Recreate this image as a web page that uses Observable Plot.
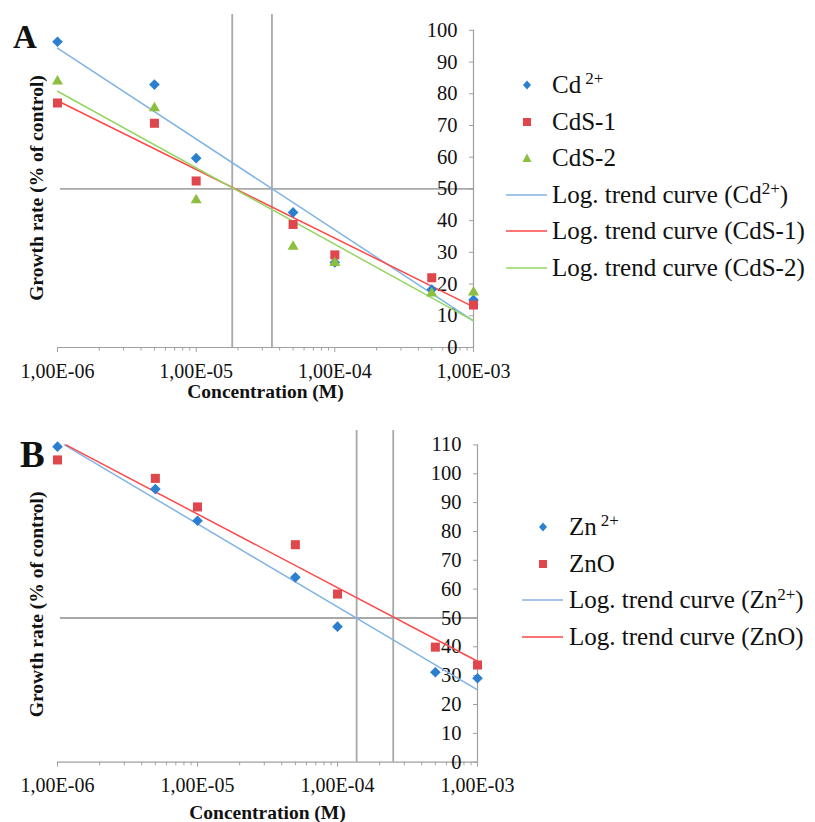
<!DOCTYPE html>
<html>
<head>
<meta charset="utf-8">
<script src="https://cdn.jsdelivr.net/npm/d3@7"></script>
<script src="https://cdn.jsdelivr.net/npm/@observablehq/plot@0.6"></script>
<style>
  html, body { margin: 0; padding: 0; background: #fff; }
  body { font-family: "Liberation Serif", "Tinos", "Nimbus Roman", "Times New Roman", "DejaVu Serif", serif; color: #111; }
  #wrap { position: relative; width: 815px; height: 822px; overflow: hidden; }
  .panel { position: absolute; left: 0; }
  .panel svg { overflow: visible; }
  .letter { position: absolute; font-weight: bold; line-height: 1; }
  .legend { position: absolute; font-size: 25px; }
  .row { display: flex; align-items: center; height: 36.6px; white-space: nowrap; }
  .key { position: relative; width: 46px; height: 20px; margin-right: 0; flex: none; }
  .key svg { position: absolute; left: 0; top: 0; }
  sup { font-size: 0.68em; vertical-align: 0; position: relative; top: -0.5em; }
</style>
</head>
<body>
<div id="wrap">
  <div id="pa" class="panel" style="top:0px"></div>
  <div id="pb" class="panel" style="top:405px"></div>
  <div class="letter" style="left:13px; top:21px; font-size:33px;">A</div>
  <div class="letter" style="left:20px; top:436px; font-size:37px;">B</div>
  <div id="legA" class="legend" style="left:506px; top:66.7px;"></div>
  <div id="legB" class="legend" style="left:522px; top:508.7px;"></div>
</div>
<script>
// ---------- data ----------
const conc = [1e-6, 5e-6, 1e-5, 5e-5, 1e-4, 5e-4, 1e-3];

// Panel A
const cd2  = [96.4, 82.9, 59.7, 42.6, 26.8, 18.3, 15.0];
const cds1 = [77.1, 70.7, 52.5, 38.8, 29.2, 22.0, 13.4];
const cds2 = [83.9, 75.5, 46.5, 31.8, 26.7, 17.1, 17.4];
const trendXA = [1e-6, 1e-3];
const trendCd2  = [94.4, 8.4];
const trendCdS1 = [77.8, 12.8];
const trendCdS2 = [80.8, 8.4];
const ic50A = [1.82e-5, 3.52e-5];

// Panel B
const zn2 = [109.4, 94.7, 83.7, 64.1, 47.0, 31.2, 29.1];
const zno = [104.8, 98.4, 88.5, 75.4, 58.3, 39.9, 33.7];
const trendZn2X = [1.12e-6, 1e-3];
const trendZn2  = [110, 25.1];
const trendZnOX = [1.15e-6, 1e-3];
const trendZnO  = [110, 35.0];
const ic50B = [1.37e-4, 2.5e-4];

// axes
const xMajor = [1e-6, 1e-5, 1e-4, 1e-3];
const xLabels = ["1,00E-06", "1,00E-05", "1,00E-04", "1,00E-03"];
const yTicksA = [0, 10, 20, 30, 40, 50, 60, 70, 80, 90, 100];
const yTicksB = [0, 10, 20, 30, 40, 50, 60, 70, 80, 90, 100, 110];
const halfLine = 50;
const hLineX = [1.05e-6, 1e-3];

const xMinor = [];
for (const dec of [1e-6, 1e-5, 1e-4]) for (let m = 2; m <= 9; m++) xMinor.push(m * dec);

// ---------- styles ----------
const C = {
  blue: "#2a7fcf", red: "#e0474c", green: "#8cbf3f",
  tBlue: "#80b3e6", tRed: "#ff4747", tGreen: "#93d661",
  ref: "#a8a8a8", axis: "#a0a0a0", text: "#111"
};
const font = "'Liberation Serif', 'Tinos', 'Nimbus Roman', 'Times New Roman', 'DejaVu Serif', serif";

function pts(ys) { return conc.map((x, i) => ({x, y: ys[i]})); }
function seg(xs, ys) { return xs.map((x, i) => ({x, y: ys[i]})); }

function commonAxes(yTicks, yTop, yRefTop, ic50, titleDy, yTitleDy) {
  return [
    Plot.ruleY([halfLine], {x1: hLineX[0], x2: hLineX[1], stroke: C.ref, strokeWidth: 1.8}),
    Plot.ruleX(ic50, {y1: 0, y2: yRefTop, stroke: C.ref, strokeWidth: 1.8}),
    Plot.ruleY([0], {x1: xMajor[0], x2: xMajor[3], stroke: C.axis, strokeWidth: 1.2}),
    Plot.ruleX([xMajor[3]], {y1: 0, y2: yTop, stroke: C.axis, strokeWidth: 1.2}),
    Plot.axisX({ticks: xMajor, tickSize: 5, tickPadding: 11, stroke: C.axis, strokeOpacity: 1,
      tickFormat: d => xLabels[xMajor.findIndex(v => Math.abs(Math.log10(v) - Math.log10(d)) < 1e-6)],
      label: null, fontSize: 20}),
    Plot.axisX({ticks: xMinor, tickSize: 3.5, stroke: C.axis, strokeOpacity: 1, tickFormat: () => "", label: null}),
    Plot.axisY({anchor: "right", ticks: yTicks, tickSize: 5, dx: -5, tickPadding: -16, textAnchor: "end",
      stroke: C.axis, strokeOpacity: 1, tickFormat: d => String(d), label: null, fontSize: 20.5}),
    Plot.text(["Concentration (M)"], {frameAnchor: "bottom", dy: titleDy, fontWeight: "bold", fontSize: 19.5, textAnchor: "middle", lineAnchor: "middle", fill: C.text}),
    Plot.text(["Growth rate (% of control)"], {frameAnchor: "left", rotate: -90, dx: -21, dy: yTitleDy, fontWeight: "bold", fontSize: 19.5, textAnchor: "middle", lineAnchor: "middle", fill: C.text})
  ];
}

// ---------- Panel A ----------
const plotA = Plot.plot({
  width: 520, height: 405,
  marginLeft: 57, marginRight: 47, marginTop: 14, marginBottom: 58,
  x: {type: "log", domain: [1e-6, 1e-3]},
  y: {domain: [0, 105]},
  style: {fontFamily: font, fontSize: "20px", color: C.text, background: "transparent", overflow: "visible"},
  marks: [
    ...commonAxes(yTicksA, 100, 105, ic50A, 44, 7),
    Plot.line(seg(trendXA, trendCd2),  {x: "x", y: "y", stroke: C.tBlue, strokeWidth: 1.5}),
    Plot.line(seg(trendXA, trendCdS1), {x: "x", y: "y", stroke: C.tRed, strokeWidth: 1.5}),
    Plot.line(seg(trendXA, trendCdS2), {x: "x", y: "y", stroke: C.tGreen, strokeWidth: 1.5}),
    Plot.dot(pts(cd2),  {x: "x", y: "y", symbol: "diamond2", r: 4.8, fill: C.blue, stroke: null}),
    Plot.dot(pts(cds1), {x: "x", y: "y", symbol: "square", r: 5.1, fill: C.red, stroke: null}),
    Plot.dot(pts(cds2), {x: "x", y: "y", symbol: "triangle", r: 4.1, fill: C.green, stroke: null})
  ]
});
document.getElementById("pa").append(plotA);

// ---------- Panel B ----------
const plotB = Plot.plot({
  width: 520, height: 417,
  marginLeft: 57, marginRight: 43, marginTop: 25, marginBottom: 60.3,
  x: {type: "log", domain: [1e-6, 1e-3]},
  y: {domain: [0, 115]},
  style: {fontFamily: font, fontSize: "20px", color: C.text, background: "transparent", overflow: "visible"},
  marks: [
    ...commonAxes(yTicksB, 110, 115, ic50B, 51, 8),
    Plot.line(seg(trendZn2X, trendZn2), {x: "x", y: "y", stroke: C.tBlue, strokeWidth: 1.5}),
    Plot.line(seg(trendZnOX, trendZnO), {x: "x", y: "y", stroke: C.tRed, strokeWidth: 1.5}),
    Plot.dot(pts(zn2), {x: "x", y: "y", symbol: "diamond2", r: 4.8, fill: C.blue, stroke: null}),
    Plot.dot(pts(zno), {x: "x", y: "y", symbol: "square", r: 5.1, fill: C.red, stroke: null})
  ]
});
document.getElementById("pb").append(plotB);

// ---------- Legends ----------
const markerSvg = {
  diamond: c => `<svg width="46" height="20"><path d="M21 5.5 L25 10 L21 14.5 L17 10 Z" fill="${c}"/></svg>`,
  square:  c => `<svg width="46" height="20"><rect x="17" y="6" width="8" height="8" fill="${c}"/></svg>`,
  triangle:c => `<svg width="46" height="20"><path d="M21 5.5 L25.5 14 L16.5 14 Z" fill="${c}"/></svg>`,
  line:    c => `<svg width="46" height="20"><line x1="0" x2="41" y1="10" y2="10" stroke="${c}" stroke-width="1.6"/></svg>`
};
function legend(el, items, keyW) {
  const root = document.getElementById(el);
  for (const it of items) {
    const row = document.createElement("div");
    row.className = "row";
    row.innerHTML = `<div class="key" style="width:${keyW}px">${markerSvg[it.k](it.c)}</div><div>${it.t}</div>`;
    root.append(row);
  }
}
const legendA = [
  {k: "diamond", c: C.blue, t: "Cd<sup style='margin-left:4px'>2+</sup>"},
  {k: "square", c: C.red, t: "CdS-1"},
  {k: "triangle", c: C.green, t: "CdS-2"},
  {k: "line", c: C.tBlue, t: "Log. trend curve (Cd<sup>2+</sup>)"},
  {k: "line", c: C.tRed, t: "Log. trend curve (CdS-1)"},
  {k: "line", c: C.tGreen, t: "Log. trend curve (CdS-2)"}
];
const legendB = [
  {k: "diamond", c: C.blue, t: "Zn<sup style='margin-left:4px'>2+</sup>"},
  {k: "square", c: C.red, t: "ZnO"},
  {k: "line", c: C.tBlue, t: "Log. trend curve (Zn<sup>2+</sup>)"},
  {k: "line", c: C.tRed, t: "Log. trend curve (ZnO)"}
];
legend("legA", legendA, 46);
legend("legB", legendB, 47);
</script>
</body>
</html>
